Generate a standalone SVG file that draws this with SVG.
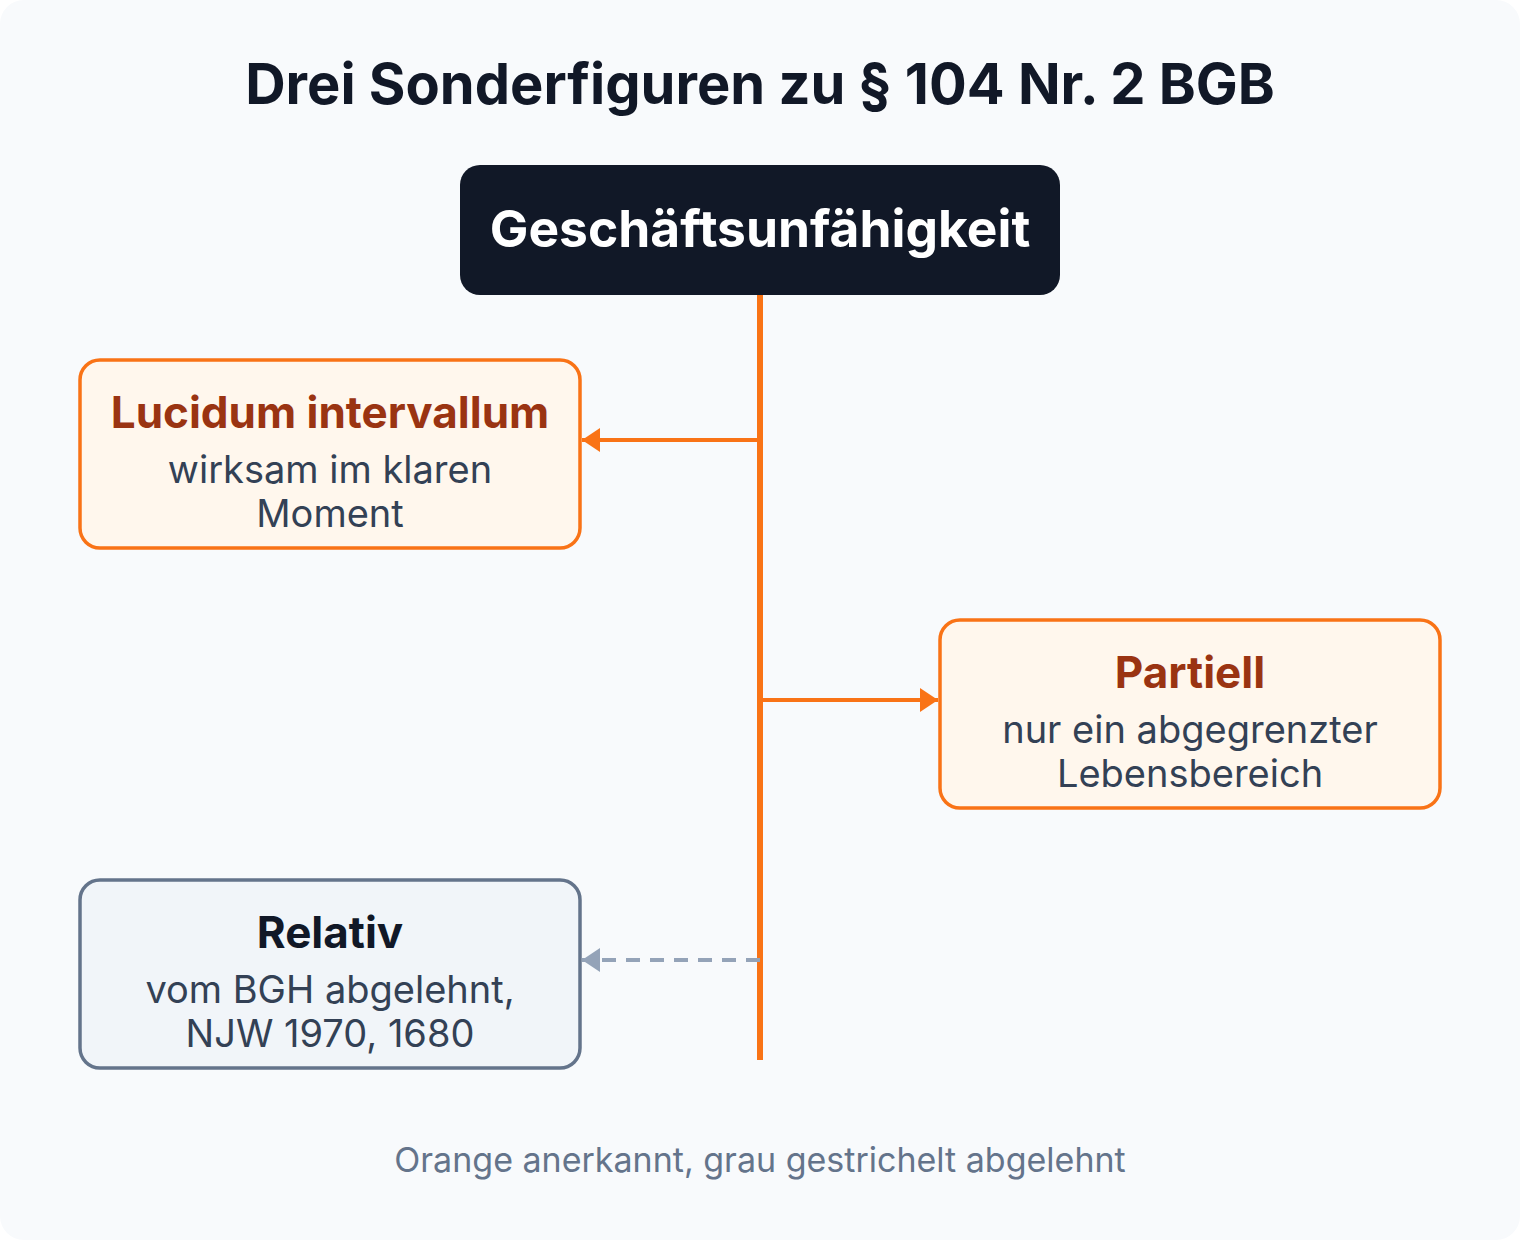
<svg xmlns="http://www.w3.org/2000/svg" width="1520" height="1240" viewBox="0 0 1520 1240">
<defs>
<style>
text{font-family:Inter,"Liberation Sans",sans-serif;text-anchor:middle}
.title{font-size:56px;font-weight:700;fill:#111827}
.root{font-size:51.5px;font-weight:700;fill:#ffffff}
.h-or{font-size:44px;font-weight:700;fill:#9a3412}
.h-gr{font-size:44px;font-weight:700;fill:#111827}
.sub{font-size:38px;fill:#334155}
.note{font-size:34px;fill:#64748b}
.box-or{fill:#fff7ed;stroke:#f97316;stroke-width:3.5}
.box-gr{fill:#f1f5f9;stroke:#64748b;stroke-width:3.5}
.c-or{stroke:#f97316;stroke-width:4;fill:none}
.c-gr{stroke:#94a3b8;stroke-width:4;fill:none;stroke-dasharray:14 10}
</style>
<marker id="ao" markerUnits="userSpaceOnUse" markerWidth="20" markerHeight="24" refX="18" refY="12" orient="auto"><path d="M0,0 L18,12 L0,24 Z" fill="#f97316"/></marker>
<marker id="ag" markerUnits="userSpaceOnUse" markerWidth="20" markerHeight="24" refX="18" refY="12" orient="auto"><path d="M0,0 L18,12 L0,24 Z" fill="#94a3b8"/></marker>
</defs>
<rect x="0" y="0" width="1520" height="1240" rx="24" fill="#f8fafc"/>
<text class="title" x="760" y="104">Drei Sonderfiguren zu § 104 Nr. 2 BGB</text>
<g id="connectors">
<line x1="760" y1="295" x2="760" y2="1060" stroke="#f97316" stroke-width="6"/>
<line class="c-or" x1="760" y1="440" x2="582" y2="440" marker-end="url(#ao)"/>
<line class="c-or" x1="760" y1="700" x2="938" y2="700" marker-end="url(#ao)"/>
<line class="c-gr" x1="760" y1="960" x2="582" y2="960" marker-end="url(#ag)"/>
</g>
<g id="root">
<rect x="460" y="165" width="600" height="130" rx="20" fill="#111827"/>
<text class="root" x="760" y="247">Geschäftsunfähigkeit</text>
</g>
<g id="lucidum">
<rect class="box-or" x="80" y="360" width="500" height="188" rx="20"/>
<text class="h-or" x="330" y="428">Lucidum intervallum</text>
<text class="sub" x="330" y="483">wirksam im klaren</text>
<text class="sub" x="330" y="527">Moment</text>
</g>
<g id="partiell">
<rect class="box-or" x="940" y="620" width="500" height="188" rx="20"/>
<text class="h-or" x="1190" y="688">Partiell</text>
<text class="sub" x="1190" y="743">nur ein abgegrenzter</text>
<text class="sub" x="1190" y="787">Lebensbereich</text>
</g>
<g id="relativ">
<rect class="box-gr" x="80" y="880" width="500" height="188" rx="20"/>
<text class="h-gr" x="330" y="948">Relativ</text>
<text class="sub" x="330" y="1003">vom BGH abgelehnt,</text>
<text class="sub" x="330" y="1047">NJW 1970, 1680</text>
</g>
<text class="note" x="760" y="1172">Orange anerkannt, grau gestrichelt abgelehnt</text>
</svg>
